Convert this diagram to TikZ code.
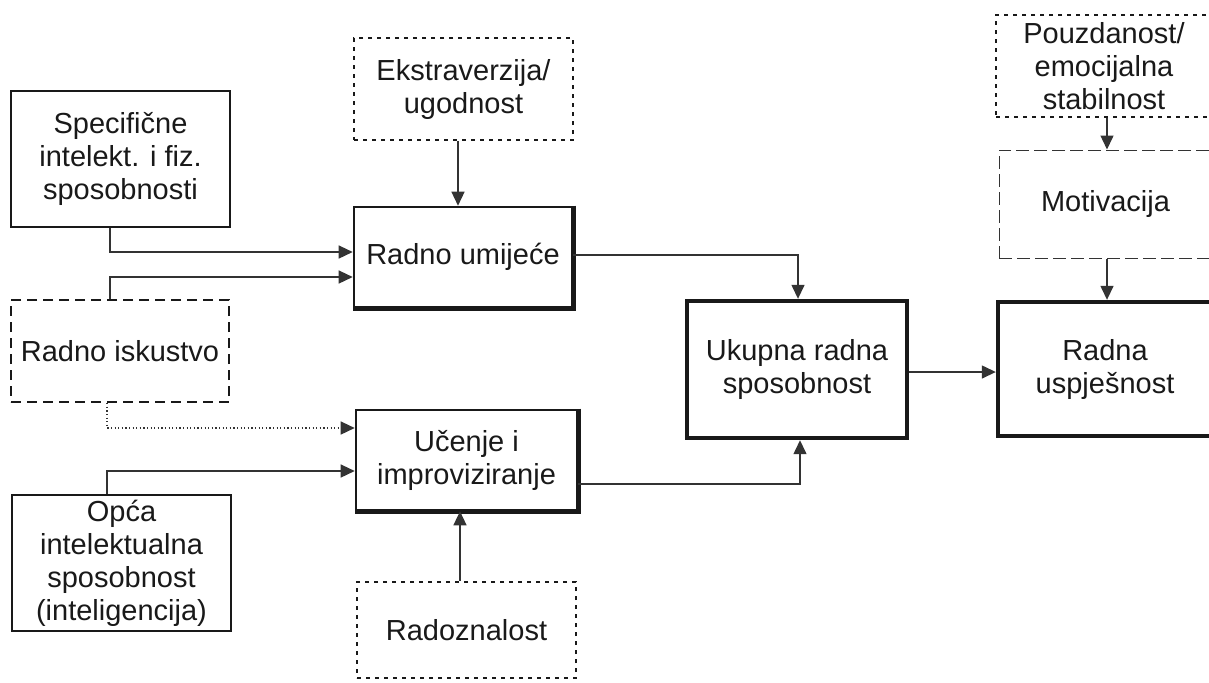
\documentclass[tikz,border=0pt]{standalone}
\usepackage{fontspec}
\setmainfont{Liberation Sans}
\usepackage{tikz}
\usetikzlibrary{arrows.meta, calc, positioning}

\begin{document}
\begin{tikzpicture}[x=0.5pt, y=-0.5pt,
	every node/.style={inner sep=0pt, align=center, text=black!90,
		font=\fontsize{14.5}{16.5}\selectfont},
	plainbox/.style={draw=black!90, line width=1pt},
	heavybox/.style={draw=black!90, line width=2.2pt},
	shadowbox/.style={draw=black!90, line width=1.3pt},
	dotbox/.style={draw=black!90, line width=1.2pt, dash pattern=on 2pt off 2.5pt},
	dashbox/.style={draw=black!90, line width=1.1pt, dash pattern=on 5pt off 3pt},
	thinbox/.style={draw=black!80, line width=0.5pt, dash pattern=on 6.5pt off 2.5pt},
	link/.style={draw=black!80, line width=0.7pt, -{Triangle[length=7pt, width=6.5pt]}},
	dotlink/.style={link, dash pattern=on 0.6pt off 1.2pt}]
	\useasboundingbox (0,0) rectangle (1209,682);
	\clip (0,0) rectangle (1209,682);

	% left column
	\node[plainbox, minimum width=109.5pt, minimum height=68pt] (spec) at (120.5,159) {Specifične\\intelekt. i fiz.\\sposobnosti};
	\node[dashbox, minimum width=109pt, minimum height=51pt] (isk) at (120,351) {Radno iskustvo};
	\node[plainbox, minimum width=109.5pt, minimum height=68pt] (opca) at (121.5,563) {Opća\\intelektualna\\sposobnost\\(inteligencija)};

	% middle column
	\node[dotbox, minimum width=109.5pt, minimum height=51pt] (ekstra) at (463.5,89) {Ekstraverzija/\\ugodnost};
	\node[shadowbox, minimum width=109pt, minimum height=50pt] (umij) at (463,257) {Radno umijeće};
	\node[shadowbox, minimum width=110.5pt, minimum height=50pt] (ucenje) at (466.5,460) {Učenje i\\improviziranje};
	\node[dotbox, minimum width=109.5pt, minimum height=48pt] (radoz) at (466.5,630) {Radoznalost};
	\draw[black!90, line width=2.6pt] (umij.north east) -- (umij.south east) -- (umij.south west);
	\draw[black!90, line width=2.6pt] (ucenje.north east) -- (ucenje.south east) -- (ucenje.south west);

	\node[heavybox, minimum width=110pt, minimum height=68.5pt] (ukupna) at (797,369.5) {Ukupna radna\\sposobnost};

	% right column, cut off at the edge
	\node[dotbox, minimum width=108pt, minimum height=51pt] (pouzd) at (1104,66) {Pouzdanost/\\emocijalna\\stabilnost};
	\node[thinbox, minimum width=106.5pt, minimum height=54pt] (motiv) at (1105.5,204) {Motivacija};
	\node[heavybox, minimum width=107pt, minimum height=67pt] (radna) at (1105,369) {Radna\\uspješnost};

	\draw[link] ($(spec.south)+(-10.5,0)$) |- ($(umij.west)+(0,-5)$);
	\draw[link] ($(isk.north)+(-10,0)$) |- ($(umij.west)+(0,20)$);
	\draw[link] ($(ekstra.south)+(-5.5,0)$) -- ($(umij.north)+(-5,0)$);
	\draw[link] ($(umij.east)+(0,-2)$) -| ($(ukupna.north)+(1,0)$);
	\draw[dotlink] ($(isk.south)+(-13,0)$) |- ($(ucenje.west)+(0,-32)$);
	\draw[link] ($(opca.north)+(-14.5,0)$) |- ($(ucenje.west)+(0,11)$);
	\draw[link] ($(radoz.north)+(-6.5,0)$) -- ($(ucenje.south)+(-6.5,0)$);
	\draw[link] ($(ucenje.east)+(0,24)$) -| ($(ukupna.south)+(3,0)$);
	\draw[link] ($(ukupna.east)+(0,2.5)$) -- ($(radna.west)+(0,3)$);
	\draw[link] ($(pouzd.south)+(3,0)$) -- ($(motiv.north)+(1.5,0)$);
	\draw[link] ($(motiv.south)+(1.5,0)$) -- ($(radna.north)+(2,0)$);

\end{tikzpicture}
\end{document}
